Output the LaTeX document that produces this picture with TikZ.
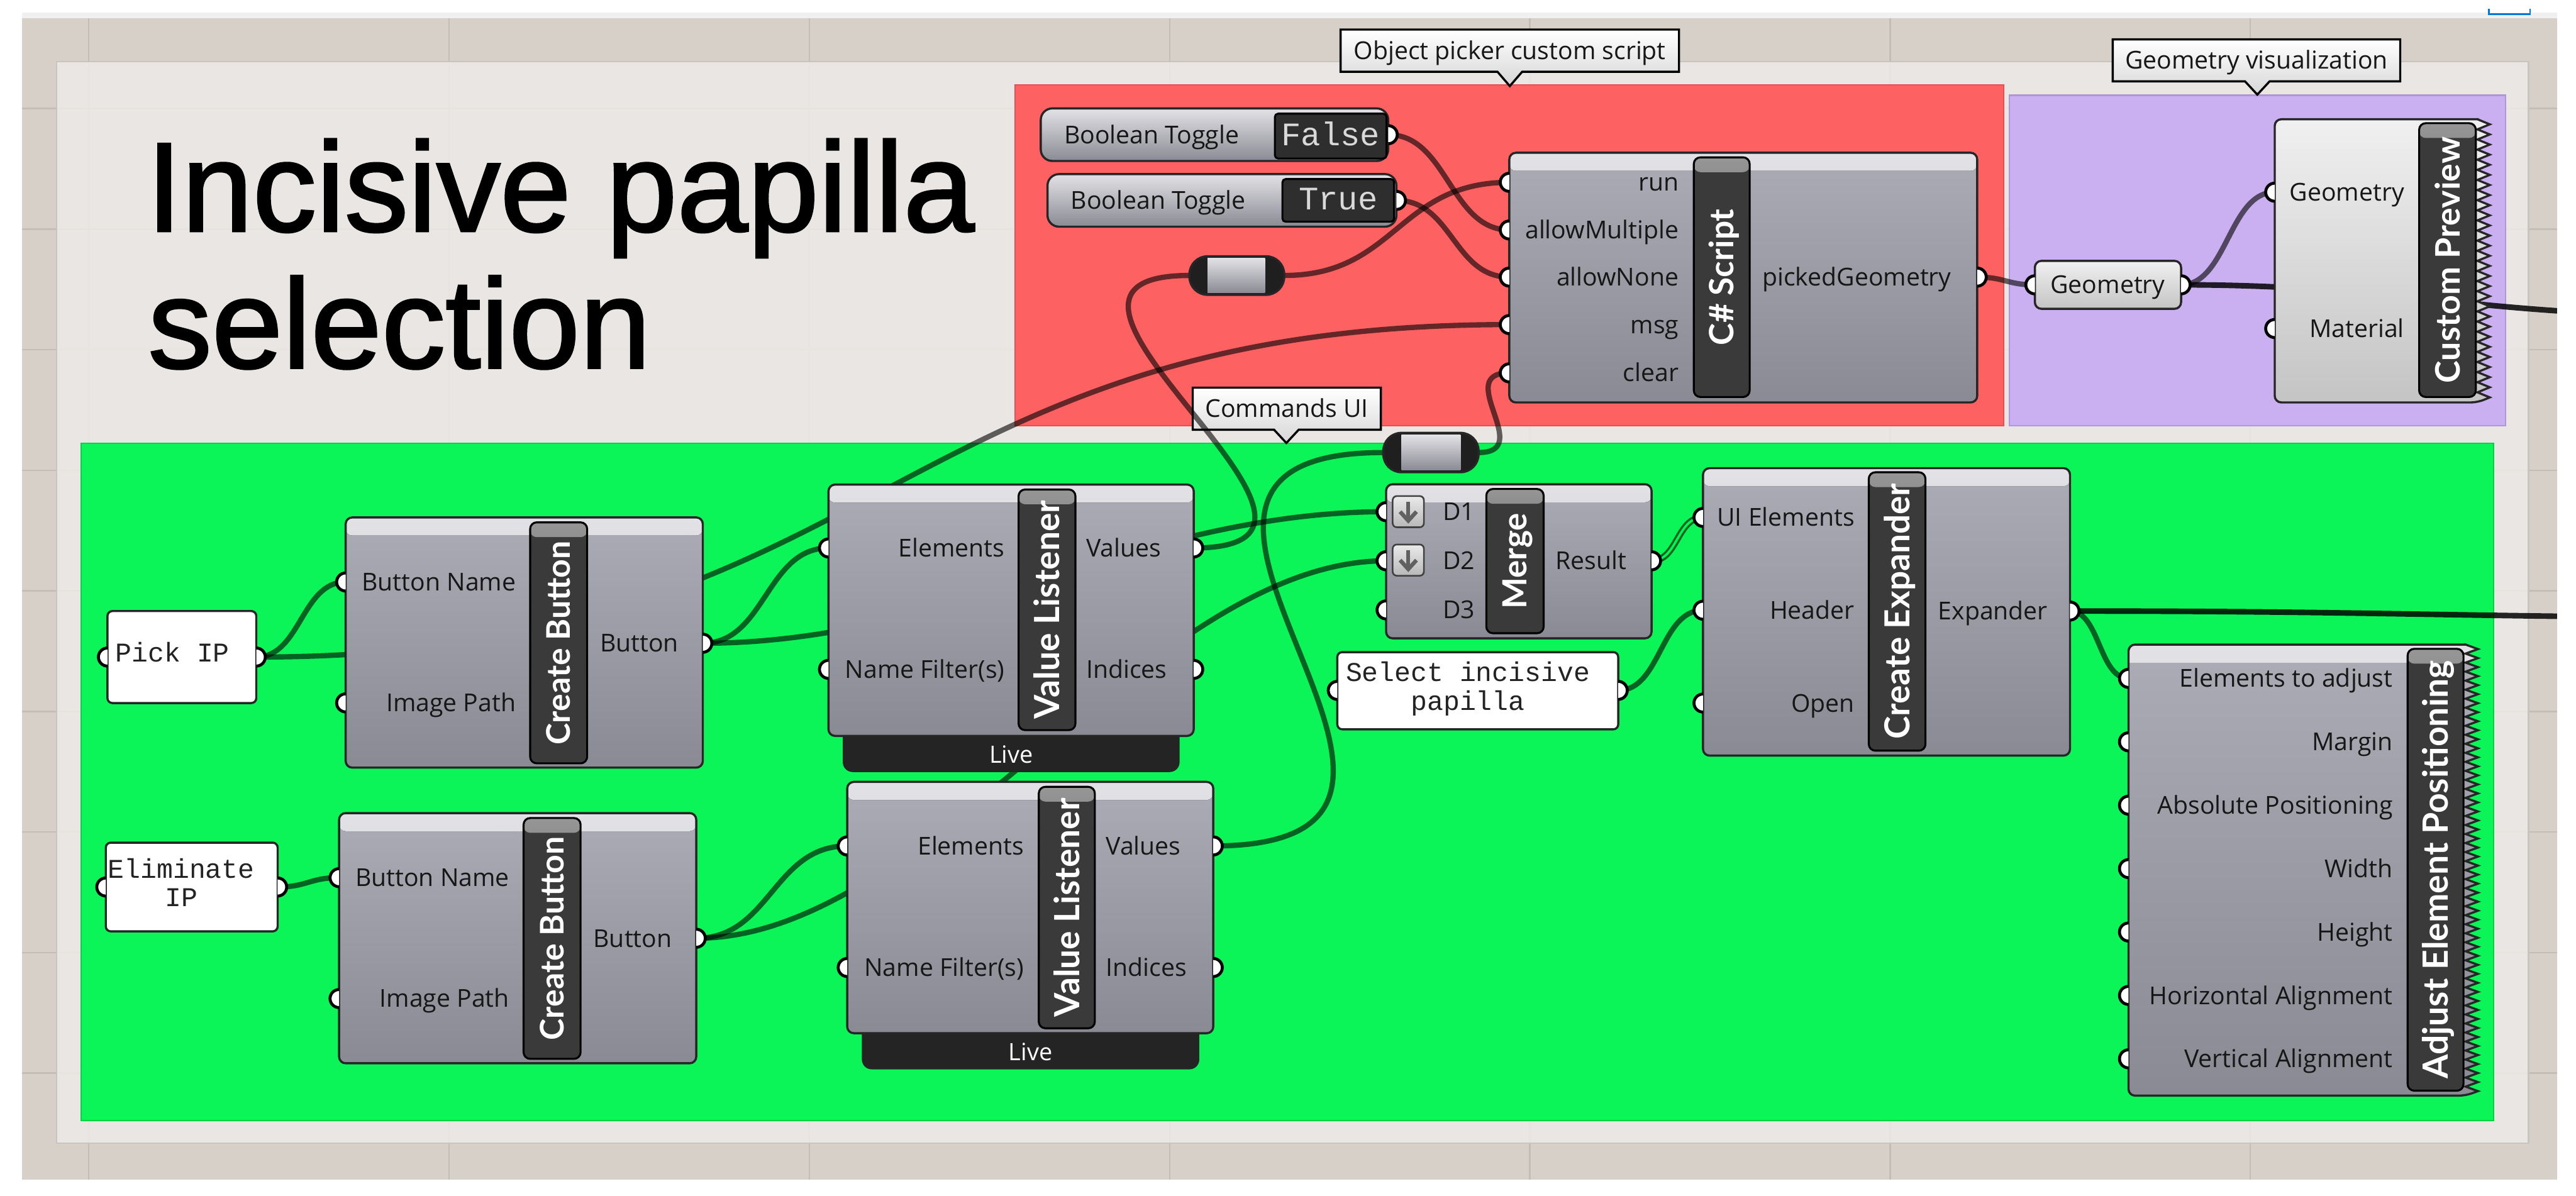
\documentclass[tikz,border=0pt]{standalone}
\usepackage{fontspec}
\usepackage{graphicx}
\setmainfont{Open Sans}
\newfontfamily\titlefont[FakeBold=1.6]{Liberation Sans}
\newfontfamily\barfont{Lato}
\newfontfamily\monofont{Liberation Mono}
\usetikzlibrary{calc}

\definecolor{tanc}{RGB}{215,208,200}
\definecolor{stripc}{RGB}{240,240,240}
\definecolor{tangrid}{RGB}{196,189,181}
\definecolor{panelc}{RGB}{236,234,231}
\definecolor{panelline}{RGB}{200,197,192}
\definecolor{grpred}{RGB}{255,90,92}
\definecolor{grpredb}{RGB}{230,80,82}
\definecolor{grppurple}{RGB}{202,174,242}
\definecolor{grppurpleb}{RGB}{175,150,215}
\definecolor{grpgreen}{RGB}{0,246,82}
\definecolor{grpgreenb}{RGB}{0,210,70}
\definecolor{bodytop}{RGB}{172,172,182}
\definecolor{bodybot}{RGB}{138,138,148}
\definecolor{bandtop}{RGB}{226,226,230}
\definecolor{bandbot}{RGB}{192,192,200}
\definecolor{lighttop}{RGB}{240,240,240}
\definecolor{lightbot}{RGB}{196,196,196}
\definecolor{edgec}{RGB}{38,38,38}
\definecolor{barcol}{RGB}{58,58,58}
\definecolor{bartop}{RGB}{150,150,150}
\definecolor{labelcol}{RGB}{22,22,22}
\definecolor{monocol}{RGB}{35,35,35}
\definecolor{livec}{RGB}{36,36,36}
\definecolor{wiregreen}{RGB}{0,98,33}
\definecolor{selblue}{RGB}{0,120,215}

\tikzset{
  gridl/.style={draw=tangrid, line width=0.9pt},
  grp/.style={line width=0.8pt, fill opacity=0.95},
  ghbody/.style={draw=edgec, line width=1.3pt, rounded corners=4pt, inner sep=0pt, outer sep=0pt,
    top color=bodytop, bottom color=bodybot,
    path picture={\fill[top color=bandtop, bottom color=bandbot] (path picture bounding box.north west) rectangle ([yshift=-11pt]path picture bounding box.north east);}},
  lightbody/.style={draw=edgec, line width=1.3pt, rounded corners=4pt, inner sep=0pt, outer sep=0pt,
    top color=lighttop, bottom color=lightbot},
  ghbarbox/.style={draw=black, line width=1.2pt, rounded corners=4pt, fill=barcol, inner sep=0pt, outer sep=0pt,
    path picture={\fill[top color=bartop, bottom color=barcol] (path picture bounding box.north west) rectangle ([yshift=-9pt]path picture bounding box.north east);}},
  panelbox/.style={draw=edgec, line width=1.3pt, rounded corners=3pt, fill=white, inner sep=0pt, outer sep=0pt},
  togbody/.style={draw=edgec, line width=1.3pt, rounded corners=7pt, inner sep=0pt, outer sep=0pt,
    top color=bandtop, bottom color=bodybot},
  togval/.style={draw=black, line width=1.2pt, rounded corners=2pt, fill=barcol!80!black, inner sep=0pt, outer sep=0pt},
  relaybody/.style={draw=edgec, line width=1.3pt, rounded corners=11pt, fill=black!88, inner sep=0pt, outer sep=0pt},
  livebar/.style={fill=livec, rounded corners=6pt},
  iconbox/.style={draw=black!75, line width=1pt, rounded corners=2.5pt, top color=white!92!black, bottom color=black!28, inner sep=0pt, outer sep=0pt},
  icarrow/.style={draw=black!62, line width=2.4pt},
  port/.style={fill=white, draw=black, line width=1.8pt},
  wire/.style={draw=black, draw opacity=0.6, line width=3.2pt},
  darkwire/.style={draw=black, draw opacity=0.84, line width=3.4pt},
  listwire/.style={draw=wiregreen, line width=1.3pt, double=grpgreen, double distance=1.4pt},
  callst/.style={draw=black, line width=1.3pt, top color=white, bottom color=black!16},
  calltext/.style={font=\fontsize{15}{18}\selectfont, text=labelcol, inner sep=0pt, text height=10.7pt, text depth=0pt},
  lab/.style={font=\fontsize{15}{18}\selectfont, text=labelcol, inner sep=0pt, text height=10.7pt, text depth=0pt},
  labE/.style={lab, anchor=east},
  labW/.style={lab, anchor=west},
  livetext/.style={font=\fontsize{14.5}{17}\selectfont, text=white, inner sep=0pt, text height=10.4pt, text depth=0pt},
  bartext/.style={font=\barfont\bfseries\fontsize{20}{20}\selectfont, text=white, inner sep=0pt},
  mono/.style={font=\monofont\fontsize{16.5}{18}\selectfont, text=monocol, inner sep=0pt, anchor=base},
  togtext/.style={font=\monofont\fontsize{20}{22}\selectfont, text=white!85!black, inner sep=0pt, text height=11.4pt, text depth=0pt},
  titlest/.style={font=\titlefont\fontsize{77.5}{80}\selectfont, text=black, inner sep=0pt, anchor=base west}
}

% component body: style, name, x1, y1, x2, y2
\newcommand\ghnode[6][ghbody]{\node[#1, minimum width={#5-#3}, minimum height={#6-#4}, anchor=north west] (#2) at (#3,#4) {};}
% dark title bar: name, x1, y1, x2, y2, text, text length
\newcommand\ghbar[7]{\node[ghbarbox, minimum width={#4-#2}, minimum height={#5-#3}, anchor=north west] (#1) at (#2,#3) {};
  \node[bartext, rotate=90] (#1-t) at (#1.center) {\resizebox{#7pt}{!}{\smash{#6}\rule{0pt}{14.4pt}}};}
\newcommand\drawin[1]{\filldraw[port] ([yshift=5.5pt]#1) arc[start angle=90, end angle=270, radius=5.5pt];}
\newcommand\drawout[1]{\filldraw[port] ([yshift=5.5pt]#1) arc[start angle=90, end angle=-90, radius=5.5pt];}
\newcommand\wire[4][wire]{\draw[#1] (#2) .. controls ($(#2)+(#4,0)$) and ($(#3)-(#4,0)$) .. (#3);}
% callout: name, x1, y1, x2, y2, px, tipy, text
\newcommand\callout[8]{\path[callst] (#2,#3) -- (#4,#3) -- (#4,#5) -- ({#6+7.5},#5) -- (#6,#7) -- ({#6-7.5},#5) -- (#2,#5) -- cycle;
  \node[calltext] (#1) at ({(#2+#4)/2},{(#3+#5)/2}) {#8};}
\newcommand\mergeicon[3]{\node[iconbox, minimum width=19, minimum height=19, anchor=north west] (#1) at (#2,#3) {};
  \draw[icarrow] ([yshift=-3.5pt]#1.north) -- ([yshift=4pt]#1.south);
  \draw[icarrow] ([xshift=-5pt,yshift=9.5pt]#1.south) -- ([yshift=4pt]#1.south) -- ([xshift=5pt,yshift=9.5pt]#1.south);}

\begin{document}
\begin{tikzpicture}[x=1pt,y=-1pt]
\useasboundingbox (0,0) rectangle (1568,728);
\fill[white] (0,0) rectangle (1568,728);
\fill[stripc] (13.4,7.5) rectangle (1556.4,11);
\fill[tanc] (13.4,11) rectangle (1556.4,718);
\draw[selblue, line width=1pt] (1515,5.2) -- (1515,8.7) -- (1540,8.7) -- (1540,5.2);
\foreach \x in {54,273.3,492.6,711.9,931.2,1150.5,1369.8} \draw[gridl] (\x,11) -- (\x,718);
\foreach \y in {66.1,139.5,212.9,286.3,359.7,433.1,506.5,579.9,653.3} \draw[gridl] (13.4,\y) -- (1556.4,\y);

% main light panel
\draw[fill=panelc, fill opacity=0.88, draw=panelline, line width=1pt] (34.5,37.5) rectangle (1539,696);

% groups
\draw[grp, fill=grpred, draw=grpredb] (618,51.7) rectangle (1219.5,259);
\draw[grp, fill=grppurple, draw=grppurpleb] (1223,58) rectangle (1525,259);
\draw[grp, fill=grpgreen, draw=grpgreenb] (49.5,270) rectangle (1518,682);

% group callouts
\callout{cap-picker}{816}{18}{1022}{43.7}{919}{52.4}{Object picker custom script}
\callout{cap-geo}{1286}{24}{1461}{49.5}{1374}{57.6}{Geometry visualization}
\callout{cap-cmd}{726}{236}{840.5}{261.6}{783}{269.7}{Commands UI}

% title
\node[titlest] (title1) at (89,140.8) {Incisive papilla};
\node[titlest] (title2) at (90,224) {selection};

% ---------- port coordinates ----------
\coordinate (pick-in) at (65.4,400);   \coordinate (pick-out) at (156,400);
\coordinate (elim-in) at (64.4,540);   \coordinate (elim-out) at (169,540);
\coordinate (cb1-name) at (210.4,354.3); \coordinate (cb1-img) at (210.4,427.9); \coordinate (cb1-out) at (427.8,391.6);
\coordinate (cb2-name) at (206.4,534.3); \coordinate (cb2-img) at (206.4,607.9); \coordinate (cb2-out) at (423.8,571.2);
\coordinate (vl1-el) at (504.3,333.6); \coordinate (vl1-nf) at (504.3,407.5); \coordinate (vl1-val) at (726.6,333.6); \coordinate (vl1-idx) at (726.6,407.5);
\coordinate (vl2-el) at (515.7,515); \coordinate (vl2-nf) at (515.7,589); \coordinate (vl2-val) at (738.5,515); \coordinate (vl2-idx) at (738.5,589);
\coordinate (mg-d1) at (843.7,311.5); \coordinate (mg-d2) at (843.7,341.4); \coordinate (mg-d3) at (843.7,371.3); \coordinate (mg-res) at (1005.3,341.4);
\coordinate (sel-in) at (814,420.3); \coordinate (sel-out) at (985,420.3);
\coordinate (ex-ui) at (1036.6,315); \coordinate (ex-hdr) at (1036.6,371.5); \coordinate (ex-open) at (1036.6,428); \coordinate (ex-out) at (1260,372);
\coordinate (ae-1) at (1295.6,413); \coordinate (ae-2) at (1295.6,451.6); \coordinate (ae-3) at (1295.6,490.2); \coordinate (ae-4) at (1295.6,528.8);
\coordinate (ae-5) at (1295.6,567.4); \coordinate (ae-6) at (1295.6,606); \coordinate (ae-7) at (1295.6,644.6);
\coordinate (tg1-out) at (845,82); \coordinate (tg2-out) at (850,122);
\coordinate (rl1-in) at (724,167.7); \coordinate (rl1-out) at (781.7,167.7);
\coordinate (rl2-in) at (842,275.5); \coordinate (rl2-out) at (900,275.5);
\coordinate (cs-run) at (918.7,111); \coordinate (cs-am) at (918.7,140); \coordinate (cs-an) at (918.7,168.7);
\coordinate (cs-msg) at (918.7,197.6); \coordinate (cs-clear) at (918.7,227); \coordinate (cs-out) at (1203.5,168.7);
\coordinate (geo-in) at (1238.6,173.4); \coordinate (geo-out) at (1327.6,173.4);
\coordinate (cp-geo) at (1384.6,117); \coordinate (cp-mat) at (1384.6,200);
\coordinate (offA) at (1640,192); \coordinate (offB) at (1700,376);

% ---------- wires ----------
\begin{scope}
\clip (13.4,11) rectangle (1556.4,718);
\wire{pick-out}{cb1-name}{27}
\wire{pick-out}{cs-msg}{380}
\wire{elim-out}{cb2-name}{18}
\wire{cb1-out}{vl1-el}{38}
\wire{cb1-out}{mg-d1}{150}
\wire{cb2-out}{vl2-el}{45}
\wire{cb2-out}{mg-d2}{143}
\wire{vl1-val}{rl1-in}{130}
\wire{rl1-out}{cs-run}{68}
\wire{tg1-out}{cs-am}{36}
\wire{tg2-out}{cs-an}{34}
\wire{vl2-val}{rl2-in}{200}
\wire{rl2-out}{cs-clear}{35}
\wire[listwire]{mg-res}{ex-ui}{16}
\wire{sel-out}{ex-hdr}{26}
\wire{ex-out}{ae-1}{18}
\wire[darkwire]{ex-out}{offB}{200}
\wire{cs-out}{geo-in}{17}
\wire{geo-out}{cp-geo}{28}
\wire[darkwire]{geo-out}{offA}{130}
\end{scope}

% ---------- red group: toggles, relay, C# script ----------
\ghnode[togbody]{tg1}{633.5}{66}{845}{98}
\node[labW] (tg1-l) at (647.6,82) {Boolean Toggle};
\node[togval, minimum width=68, minimum height=27.3, anchor=north west] (tg1-v) at (776,69.2) {};
\node[togtext] (tg1-vt) at (tg1-v.center) {False};
\ghnode[togbody]{tg2}{637.6}{106}{850}{138}
\node[labW] (tg2-l) at (651.6,122) {Boolean Toggle};
\node[togval, minimum width=68, minimum height=26, anchor=north west] (tg2-v) at (780.6,109) {};
\node[togtext] (tg2-vt) at (tg2-v.center) {True};

\node[relaybody, minimum width=57.7, minimum height=23.5, anchor=north west] (rl1) at (724,156) {};
\fill[top color=bandtop, bottom color=bodybot] (735,157.3) rectangle (770,178.2);
\node[relaybody, minimum width=58, minimum height=24, anchor=north west] (rl2) at (842,263.5) {};
\fill[top color=bandtop, bottom color=bodybot] (853,264.8) rectangle (889,286.2);

\ghnode{cs}{918.7}{93}{1203.5}{245}
\ghbar{cs-bar}{1031}{95.8}{1065}{241.7}{C\# Script}{83}
\node[labE] (cs-l1) at (1022,111) {run};
\node[labE] (cs-l2) at (1022,140) {allowMultiple};
\node[labE] (cs-l3) at (1022,168.7) {allowNone};
\node[labE] (cs-l4) at (1022,197.6) {msg};
\node[labE] (cs-l5) at (1022,227) {clear};
\node[labW] (cs-o1) at (1072.5,168.7) {pickedGeometry};

% ---------- purple group ----------
\ghnode[lightbody]{geo}{1238.6}{158.8}{1327.6}{188}
\node[lab] (geo-t) at (1283,173.4) {Geometry};
\path[lightbody] (1508,72.6) [rounded corners=4pt] -- (1384.6,72.6) -- (1384.6,245) -- (1508,245) [sharp corners]
  \foreach \k in {1,...,28} { -- ({1515.5},{245-6.157*\k+3.08}) -- (1508,{245-6.157*\k}) } -- cycle;
\ghbar{cp-bar}{1472.5}{75}{1507}{241.7}{Custom Preview}{150}
\node[labE] (cp-l1) at (1463.6,117) {Geometry};
\node[labE] (cp-l2) at (1463.6,200) {Material};

% ---------- green group ----------
\ghnode[panelbox]{pick}{65.4}{372}{156}{428}
\node[mono] (pick-t) at (105,402.9) {Pick IP};
\ghnode[panelbox]{elim}{64.4}{513}{169}{567}
\node[mono] (elim-t1) at (110.3,534.5) {Eliminate};
\node[mono] (elim-t2) at (110.3,552) {IP};

\ghnode{cb1}{210.4}{315}{427.8}{467.3}
\ghbar{cb1-bar}{322.7}{318}{357.4}{464.7}{Create Button}{124}
\node[labE] (cb1-l1) at (314.2,354.3) {Button Name};
\node[labE] (cb1-l2) at (314.2,427.9) {Image Path};
\node[labW] (cb1-o1) at (365,391.6) {Button};

\ghnode{cb2}{206.4}{495}{423.8}{647.3}
\ghbar{cb2-bar}{318.7}{498}{353.4}{644.6}{Create Button}{124}
\node[labE] (cb2-l1) at (310.2,534.3) {Button Name};
\node[labE] (cb2-l2) at (310.2,607.9) {Image Path};
\node[labW] (cb2-o1) at (361,571.2) {Button};

\fill[livebar] (513,438) rectangle (718,470);
\node[livetext] (vl1-live) at (615.5,459.5) {Live};
\ghnode{vl1}{504.3}{295}{726.6}{448}
\ghbar{vl1-bar}{620}{298}{654.6}{444.5}{Value Listener}{133}
\node[labE] (vl1-l1) at (611.7,333.6) {Elements};
\node[labE] (vl1-l2) at (611.7,407.5) {Name Filter(s)};
\node[labW] (vl1-o1) at (661,333.6) {Values};
\node[labW] (vl1-o2) at (661,407.5) {Indices};

\fill[livebar] (524.6,619) rectangle (730,651);
\node[livetext] (vl2-live) at (627.3,640.5) {Live};
\ghnode{vl2}{515.7}{476}{738.5}{629}
\ghbar{vl2-bar}{632.3}{479}{666.4}{626}{Value Listener}{133}
\node[labE] (vl2-l1) at (623.4,515) {Elements};
\node[labE] (vl2-l2) at (623.4,589) {Name Filter(s)};
\node[labW] (vl2-o1) at (673,515) {Values};
\node[labW] (vl2-o2) at (673,589) {Indices};

\ghnode{mg}{843.7}{294.8}{1005.3}{388.6}
\ghbar{mg-bar}{904.7}{297.7}{939.6}{385.5}{Merge}{58.5}
\mergeicon{mg-i1}{847.7}{302}
\mergeicon{mg-i2}{847.7}{331.5}
\node[labW] (mg-l1) at (878,311.5) {D1};
\node[labW] (mg-l2) at (878,341.4) {D2};
\node[labW] (mg-l3) at (878,371.3) {D3};
\node[labW] (mg-o1) at (946.6,341.4) {Result};

\ghnode[panelbox]{sel}{814}{397}{985}{444}
\node[mono] (sel-t1) at (893.5,414.8) {Select incisive};
\node[mono] (sel-t2) at (893.5,432.3) {papilla};

\ghnode{ex}{1036.6}{285}{1260}{460}
\ghbar{ex-bar}{1137.5}{287.5}{1172}{457}{Create Expander}{155.7}
\node[labE] (ex-l1) at (1129,315) {UI Elements};
\node[labE] (ex-l2) at (1129,371.5) {Header};
\node[labE] (ex-l3) at (1129,428) {Open};
\node[labW] (ex-o1) at (1179.5,372) {Expander};

\path[ghbody] (1500.8,392.4) [rounded corners=4pt] -- (1295.6,392.4) -- (1295.6,667) -- (1500.8,667) [sharp corners]
  \foreach \k in {1,...,50} { -- ({1508.3},{667-5.492*\k+2.746}) -- (1500.8,{667-5.492*\k}) } -- cycle;
\ghbar{ae-bar}{1465.5}{395}{1499.5}{664}{Adjust Element Positioning}{254.5}
\node[labE] (ae-l1) at (1456.6,413) {Elements to adjust};
\node[labE] (ae-l2) at (1456.6,451.6) {Margin};
\node[labE] (ae-l3) at (1456.6,490.2) {Absolute Positioning};
\node[labE] (ae-l4) at (1456.6,528.8) {Width};
\node[labE] (ae-l5) at (1456.6,567.4) {Height};
\node[labE] (ae-l6) at (1456.6,606) {Horizontal Alignment};
\node[labE] (ae-l7) at (1456.6,644.6) {Vertical Alignment};

% ---------- ports ----------
\foreach \p in {pick-in,elim-in,cb1-name,cb1-img,cb2-name,cb2-img,vl1-el,vl1-nf,vl2-el,vl2-nf,mg-d1,mg-d2,mg-d3,sel-in,ex-ui,ex-hdr,ex-open,ae-1,ae-2,ae-3,ae-4,ae-5,ae-6,ae-7,cs-run,cs-am,cs-an,cs-msg,cs-clear,geo-in,cp-geo,cp-mat}
  {\drawin{\p}}
\foreach \p in {pick-out,elim-out,cb1-out,cb2-out,vl1-val,vl1-idx,vl2-val,vl2-idx,mg-res,sel-out,ex-out,tg1-out,tg2-out,cs-out,geo-out}
  {\drawout{\p}}
\end{tikzpicture}
\end{document}
